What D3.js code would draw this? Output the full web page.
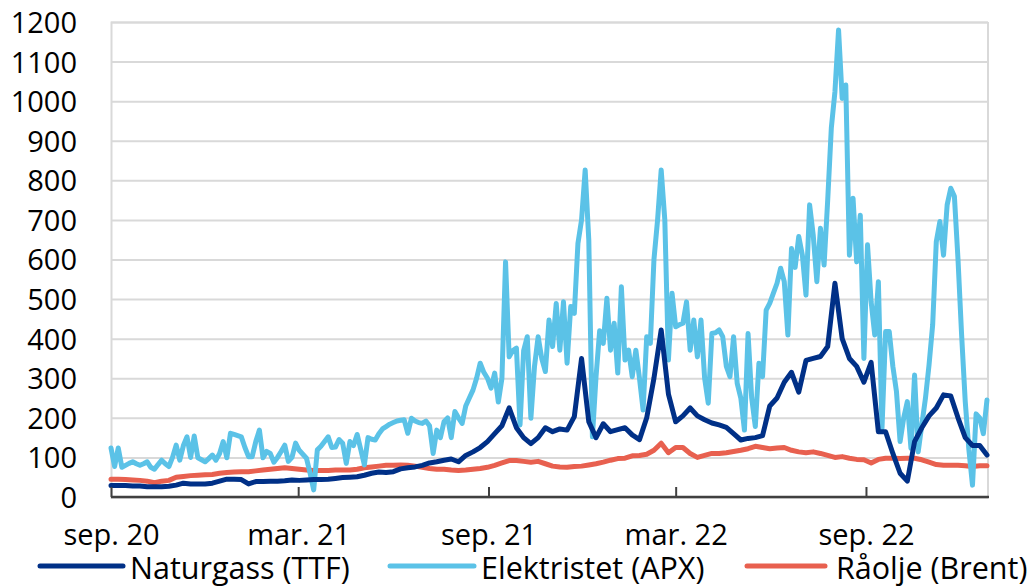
<!DOCTYPE html>
<html>
<head>
<meta charset="utf-8">
<script src="https://cdn.jsdelivr.net/npm/d3@7"></script>
<style>
  body { margin: 0; background: #fff; }
  text { font-family: "Open Sans", sans-serif; fill: #000; }
</style>
</head>
<body>
<script>
// series names
let seriesNames = ["Naturgass (TTF)", "Elektristet (APX)", "Råolje (Brent)"];
let colors = ["#003087", "#5bc2e7", "#e8604f"];

// x axis: tick dates and labels
let tickDates = ["2020-09-01", "2021-03-01", "2021-09-01", "2022-03-01", "2022-09-01"];
let tickLabels = ["sep. 20", "mar. 21", "sep. 21", "mar. 22", "sep. 22"];
let yTicks = [0, 100, 200, 300, 400, 500, 600, 700, 800, 900, 1000, 1100, 1200];

// weekly observations from 1 sep 2020
let weekStart = "2020-09-01";
let gas = [29, 29, 29, 28, 28, 26, 26, 26, 27, 30, 35, 33, 33, 33, 35, 40, 45, 45, 44, 33,
  39, 39, 40, 40, 41, 43, 42, 43, 44, 44, 45, 47, 49, 50, 51, 55, 60, 63, 62, 64,
  71, 74, 76, 80, 86, 89, 93, 96, 89, 105, 114, 125, 140, 160, 180, 225, 175, 150, 135, 150,
  175, 165, 172, 169, 203, 350, 190, 150, 185, 165, 170, 175, 157, 145, 200, 300, 422, 260, 190, 205,
  225, 205, 195, 187, 182, 176, 160, 144, 148, 150, 155, 230, 250, 290, 315, 265, 345, 350, 355, 380,
  540, 400, 350, 330, 290, 340, 165, 165, 110, 60, 40, 140, 175, 205, 225, 258, 255, 200, 150, 130,
  130, 106];
let oil = [45, 45, 44, 43, 42, 40, 36, 40, 42, 50, 52, 54, 55, 56, 57, 60, 62, 63, 64, 64,
  66, 68, 70, 72, 74, 72, 70, 68, 67, 67, 67, 68, 68, 68, 70, 74, 76, 78, 80, 80,
  81, 80, 78, 75, 72, 70, 70, 68, 67, 68, 70, 72, 75, 80, 86, 92, 92, 90, 88, 90,
  84, 78, 76, 75, 77, 78, 81, 84, 88, 93, 97, 98, 104, 105, 108, 118, 136, 112, 125, 125,
  110, 100, 105, 110, 110, 112, 115, 118, 122, 128, 125, 122, 124, 125, 118, 114, 112, 114, 110, 105,
  100, 102, 98, 95, 94, 86, 95, 98, 98, 97, 98, 98, 94, 88, 82, 80, 80, 80, 79, 77,
  79, 79];

// electricity, two observations a week from 1 sep 2020
let power = [124, 77, 124, 75, 80, 85, 89, 84, 80, 84, 89, 75, 70, 82, 93, 84, 77, 100, 131, 93,
  130, 152, 100, 154, 99, 94, 89, 97, 106, 93, 110, 140, 99, 161, 158, 155, 152, 125, 102, 102,
  140, 169, 99, 115, 110, 88, 100, 115, 131, 90, 100, 136, 118, 108, 98, 60, 18, 119, 128, 140,
  152, 125, 126, 145, 136, 85, 140, 130, 158, 120, 81, 150, 146, 144, 160, 172, 178, 184, 188, 192,
  194, 195, 161, 199, 192, 188, 186, 192, 180, 110, 169, 150, 190, 200, 150, 216, 200, 186, 230, 250,
  270, 300, 338, 315, 300, 275, 313, 240, 300, 594, 354, 370, 376, 182, 370, 405, 199, 330, 405, 350,
  317, 447, 380, 489, 371, 493, 338, 481, 464, 641, 700, 826, 649, 152, 304, 420, 388, 502, 371, 439,
  313, 531, 346, 371, 304, 371, 300, 220, 405, 388, 600, 700, 826, 700, 346, 515, 430, 435, 439, 493,
  371, 447, 354, 447, 300, 237, 413, 415, 422, 405, 330, 304, 405, 287, 250, 169, 413, 250, 178, 338,
  304, 472, 490, 515, 540, 578, 544, 409, 628, 580, 658, 611, 510, 738, 662, 544, 679, 586, 750, 932,
  1024, 1180, 1007, 1041, 611, 755, 594, 712, 350, 637, 493, 409, 544, 173, 418, 418, 330, 266, 140, 200,
  241, 123, 308, 114, 182, 249, 334, 435, 645, 696, 611, 738, 780, 760, 600, 409, 241, 120, 30, 210,
  200, 160, 245];

let width = 1030;
let height = 587;
let plotLeft = 111, plotRight = 988, plotTop = 22, plotBottom = 497;

let parse = d3.timeParse("%Y-%m-%d");
let start = parse(weekStart);

let gasData = gas.map((v, i) => ({ date: d3.timeDay.offset(start, 7 * i), value: v }));
let oilData = oil.map((v, i) => ({ date: d3.timeDay.offset(start, 7 * i), value: v }));
let powerData = power.map((v, i) => ({ date: d3.timeHour.offset(start, 84 * i), value: v }));

let svg = d3.select("body").append("svg")
    .attr("width", width)
    .attr("height", height);

let x = d3.scaleTime()
    .domain([start, parse("2022-12-28")])
    .range([plotLeft, plotRight]);

let y = d3.scaleLinear()
    .domain([0, 1200])
    .range([plotBottom, plotTop]);

// grid
let grid = svg.append("g")
    .attr("transform", `translate(${plotLeft}, 0)`)
    .call(d3.axisLeft(y).tickValues(yTicks).tickSize(-(plotRight - plotLeft)).tickFormat(""));
grid.selectAll("line").attr("stroke", "#d9d9d9").attr("stroke-width", 2);
grid.select(".domain").attr("stroke", "#d9d9d9").attr("stroke-width", 2);

svg.append("line")
    .attr("x1", plotRight).attr("x2", plotRight)
    .attr("y1", plotTop).attr("y2", plotBottom)
    .attr("stroke", "#d9d9d9")
    .attr("stroke-width", 2);

// y labels
let yAxis = svg.append("g")
    .attr("transform", `translate(77, 0)`)
    .call(d3.axisLeft(y).tickValues(yTicks).tickSize(0).tickPadding(0).tickFormat(d3.format("d")));
yAxis.select(".domain").remove();
yAxis.selectAll("text")
    .style("font-family", "'Open Sans', sans-serif")
    .style("font-size", "29px")
    .attr("fill", "#000")
    .attr("dy", "0.36em");

// lines
let line = d3.line()
    .x((d) => x(d.date))
    .y((d) => y(d.value));

let order = [[oilData, colors[2]], [powerData, colors[1]], [gasData, colors[0]]];
order.forEach(([data, color]) => {
    svg.append("path")
        .datum(data)
        .attr("fill", "none")
        .attr("stroke", color)
        .attr("stroke-width", 5)
        .attr("stroke-linejoin", "round")
        .attr("stroke-linecap", "round")
        .attr("d", line);
});

// x axis
let xAxis = svg.append("g")
    .attr("transform", `translate(0, ${plotBottom})`)
    .call(d3.axisBottom(x)
        .tickValues(tickDates.map(parse))
        .tickSize(-10)
        .tickFormat((d, i) => tickLabels[i]));
xAxis.select(".domain").attr("stroke", "#404040").attr("stroke-width", 2.5)
    .attr("d", `M${plotLeft},0H${plotRight + 1}`);
xAxis.selectAll("line").attr("stroke", "#404040").attr("stroke-width", 2);
xAxis.selectAll("text")
    .style("font-family", "'Open Sans', sans-serif")
    .style("font-size", "29px")
    .attr("fill", "#000")
    .attr("y", 48)
    .attr("dy", 0);

// legend
let legendX = [[40, 123, 130], [390, 474, 481], [747, 825, 836]];
let legend = svg.append("g");
seriesNames.forEach((name, i) => {
    let [x1, x2, tx] = legendX[i];
    legend.append("line")
        .attr("x1", x1).attr("x2", x2)
        .attr("y1", 566).attr("y2", 566)
        .attr("stroke", colors[i])
        .attr("stroke-width", 5)
        .attr("stroke-linecap", "round");
    legend.append("text")
        .attr("x", tx)
        .attr("y", 579)
        .style("font-size", "30.5px")
        .text(name);
});
</script>
</body>
</html>
